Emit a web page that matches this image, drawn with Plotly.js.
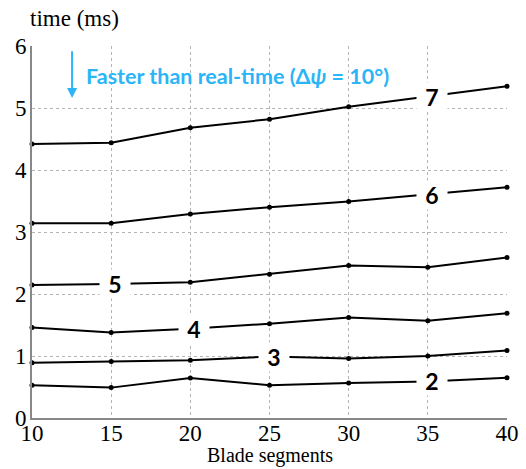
<!DOCTYPE html>
<html>
<head>
<meta charset="utf-8">
<script src="https://cdn.plot.ly/plotly-3.0.1.min.js"></script>
<style>html,body{margin:0;padding:0;background:#fff}#chart{width:526px;height:469px}</style>
</head>
<body>
<div id="chart"></div>
<script>
var segments = [10, 15, 20, 25, 30, 35, 40];
var t2 = [0.53, 0.49, 0.645, 0.53, 0.565, 0.59, 0.65];
var t3 = [0.89, 0.91, 0.93, 0.99, 0.96, 1.00, 1.09];
var t4 = [1.46, 1.38, 1.44, 1.52, 1.62, 1.57, 1.69];
var t5 = [2.145, 2.16, 2.19, 2.32, 2.46, 2.43, 2.59];
var t6 = [3.14, 3.14, 3.29, 3.40, 3.49, 3.60, 3.72];
var t7 = [4.42, 4.44, 4.68, 4.82, 5.02, 5.18, 5.35];
var seriesNames = ["2", "3", "4", "5", "6", "7"];
var seriesData = [t2, t3, t4, t5, t6, t7];
var labelIndex = [5, 3, 2, 1, 5, 5];
var xTicks = [10, 15, 20, 25, 30, 35, 40];
var yTicks = [0, 1, 2, 3, 4, 5, 6];
var noteText = "Faster than real-time (Δ<i>ψ</i> = 10°)";
var xTitle = "Blade segments";
var yTitle = "time (ms)";

var serif = "Liberation Serif, Times New Roman, serif";
var sans = "Lato, Open Sans, sans-serif";

var traces = seriesData.map(function (ys, i) {
  return {
    x: segments, y: ys, name: seriesNames[i], type: "scatter", mode: "lines+markers",
    line: {color: "#000", width: 2}, marker: {color: "#000", size: 5}, showlegend: false,
    cliponaxis: false
  };
});

var annotations = seriesData.map(function (ys, i) {
  var k = labelIndex[i];
  return {
    x: segments[k], y: ys[k], xref: "x", yref: "y", text: "<b>" + seriesNames[i] + "</b>",
    showarrow: false, bgcolor: "#fff", width: 28, height: 26, xshift: 4,
    font: {family: sans, size: 23, color: "#000"}
  };
});
annotations.push({
  x: 12.53, y: 5.16, ax: 12.53, ay: 5.94, xref: "x", yref: "y", axref: "x", ayref: "y",
  text: "", showarrow: true, arrowhead: 2, arrowsize: 1, arrowwidth: 2, arrowcolor: "#2bb5f7"
});
annotations.push({
  x: 13.28, y: 5.52, xref: "x", yref: "y", xanchor: "left", yanchor: "middle",
  text: "<b>" + noteText + "</b>", showarrow: false,
  font: {family: sans, size: 21.5, color: "#2bb5f7"}
});
annotations.push({
  x: 0, y: 1, xref: "paper", yref: "paper", xanchor: "left", yanchor: "bottom",
  xshift: -4, yshift: 13, text: yTitle, showarrow: false,
  font: {family: serif, size: 23, color: "#000"}
});
annotations.push({
  x: 0.5, y: 0, xref: "paper", yref: "paper", xanchor: "center", yanchor: "middle",
  yshift: -37, text: xTitle, showarrow: false,
  font: {family: serif, size: 20, color: "#000"}
});

var layout = {
  width: 526, height: 469,
  margin: {l: 32, r: 19, t: 46, b: 51},
  paper_bgcolor: "#fff", plot_bgcolor: "#fff",
  xaxis: {
    range: [10, 40], tickvals: xTicks, ticktext: xTicks.map(String),
    showgrid: true, gridcolor: "#b4b4b4", griddash: "dot", gridwidth: 1,
    showline: true, linecolor: "#888", linewidth: 2, zeroline: false, ticks: "",
    ticklabelstandoff: -7,
    tickfont: {family: serif, size: 23, color: "#000"}
  },
  yaxis: {
    range: [0, 6], tickvals: yTicks, ticktext: yTicks.map(String),
    showgrid: true, gridcolor: "#b4b4b4", griddash: "dot", gridwidth: 1,
    showline: true, linecolor: "#888", linewidth: 2, zeroline: false, ticks: "",
    ticklabelstandoff: -1,
    tickfont: {family: serif, size: 23, color: "#000"}
  },
  annotations: annotations
};

Plotly.newPlot("chart", traces, layout, {displayModeBar: false, staticPlot: true});
</script>
</body>
</html>
